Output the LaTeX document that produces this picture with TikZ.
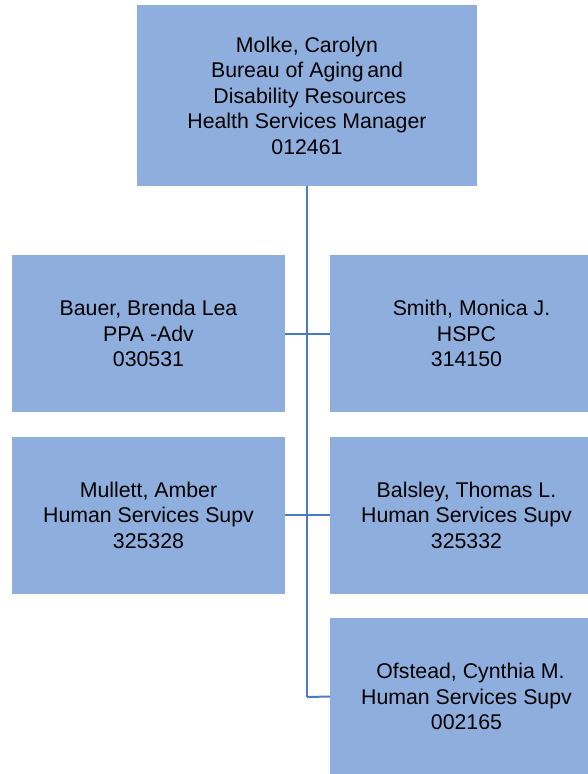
\documentclass[tikz,border=0pt]{standalone}
\usepackage{fontspec}
\setmainfont{Liberation Sans}
\definecolor{boxfill}{RGB}{142,175,222}
\definecolor{linkcol}{RGB}{72,122,198}
\begin{document}
\begin{tikzpicture}[x=1pt,y=-1pt,
  orgbox/.style={rectangle, fill=boxfill, draw=none, inner sep=0pt, align=center,
    font=\fontsize{21.3}{25.5}\selectfont, text=black},
  topbox/.style={orgbox, minimum width=340pt, minimum height=181pt},
  subbox/.style={orgbox, minimum width=273pt, minimum height=157pt},
  link/.style={draw=linkcol, line width=2pt}]
\useasboundingbox (0,0) rectangle (588,774);
\clip (0,0) rectangle (588,774);
\node[topbox] (top) at (307,95.5) {Molke, Carolyn\\Bureau of Aging\,and\\\ Disability Resources\\Health Services Manager\\012461};
\node[subbox] (l1) at (148.5,333.5) {Bauer, Brenda Lea\\PPA -Adv\\030531};
\node[subbox] (l2) at (148.5,515) {Mullett, Amber\\Human Services Supv\\325328};
\node[subbox] (r1) at (466.5,333.5) {\hspace{10pt}Smith, Monica J.\\HSPC\\314150};
\node[subbox] (r2) at (466.5,515) {Balsley, Thomas L.\\Human Services Supv\\325332};
\node[subbox] (r3) at (466.5,696.5) {\hspace{8pt}Ofstead, Cynthia M.\\Human Services Supv\\002165};
\coordinate (bend) at (307,697);
\draw[link, line width=2.5pt] (top.south) -- (bend);
\draw[link] (l1.east) -- (r1.west);
\draw[link] (l2.east) -- (r2.west);
\draw[link] (bend) -- (r3.west);
\end{tikzpicture}
\end{document}
